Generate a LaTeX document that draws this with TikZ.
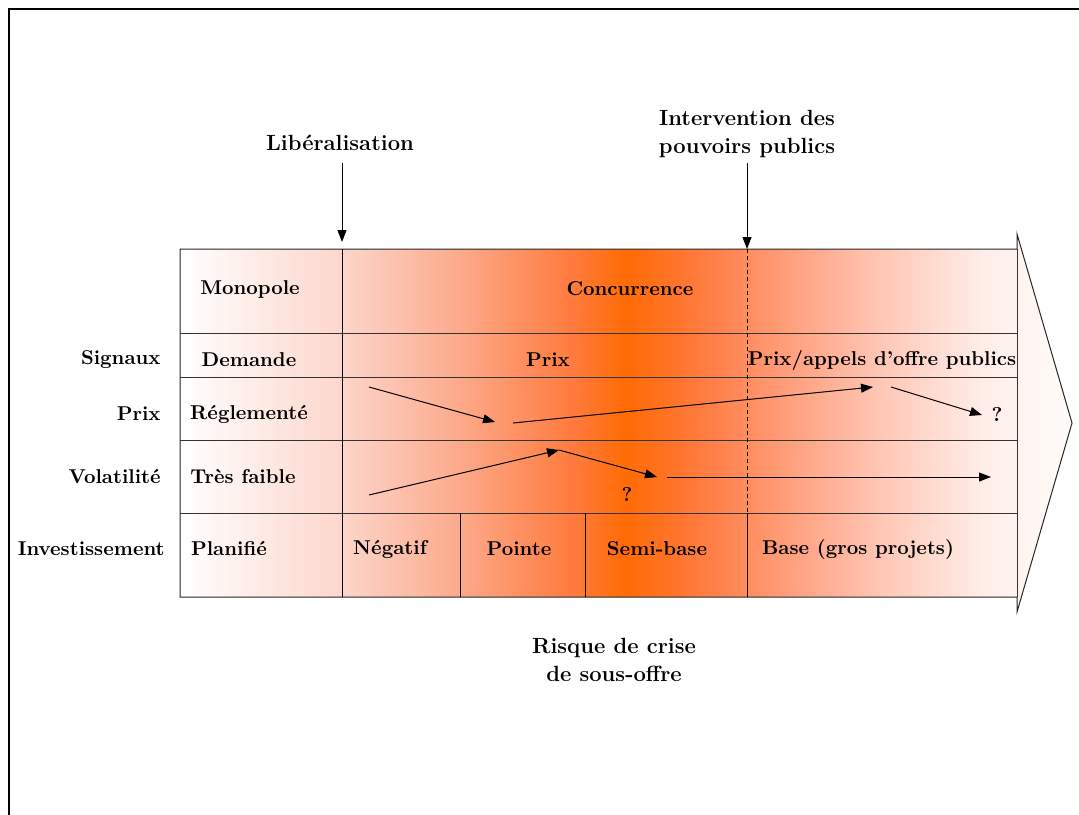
\documentclass[tikz,border=0pt]{standalone}
\usetikzlibrary{arrows.meta}

% White -> orange -> white band across the arrow body
% (the path's bounding box covers 25bp..75bp of the shading)
\pgfdeclarehorizontalshading{orangeband}{100bp}{
  rgb(0bp)=(1,1,1);
  rgb(25bp)=(1,1,1);
  rgb(34bp)=(0.99,0.84,0.80);
  rgb(40.5bp)=(0.99,0.67,0.55);
  rgb(47bp)=(1,0.48,0.24);
  rgb(50bp)=(1,0.42,0.02);
  rgb(53bp)=(1,0.46,0.18);
  rgb(56bp)=(1,0.53,0.34);
  rgb(60bp)=(1,0.65,0.53);
  rgb(65bp)=(1,0.80,0.74);
  rgb(70bp)=(1,0.93,0.91);
  rgb(75bp)=(1,0.99,0.98);
  rgb(100bp)=(1,0.99,0.98)}

\tikzset{
  grid/.style={line width=0.5pt, black!80},
  sep/.style={line width=0.5pt, black},
  lbl/.style={font=\fontsize{10}{12}\selectfont\bfseries, inner sep=0pt},
  head/.style={font=\fontsize{11}{14}\selectfont\bfseries, inner sep=0pt, align=center},
  trend/.style={line width=0.5pt, -{Triangle[length=6pt,width=4.5pt]}},
}

\begin{document}
\begin{tikzpicture}[x=0.5pt, y=-0.5pt]
\useasboundingbox (0,0) rectangle (1079,814);

% outer frame
\draw[line width=1.3pt] (9,830) -- (9,9) -- (1095,9);

% arrow body with shading
\shade[shading=orangeband]
  (180,249) -- (1017,249) -- (1017,234) -- (1072,423) -- (1017,612)
  -- (1017,597) -- (180,597) -- cycle;
\draw[line width=0.5pt, black!85]
  (180,249) -- (1017,249) -- (1017,234) -- (1072,423) -- (1017,612)
  -- (1017,597) -- (180,597) -- cycle;

% table rules
\draw[grid] (1017,249) -- (1017,597);
\foreach \yy in {333,377,440,513} \draw[grid] (180,\yy) -- (1017,\yy);
\draw[sep] (342,249) -- (342,597);
\draw[sep] (460,513) -- (460,597);
\draw[sep] (585,513) -- (585,597);
\draw[sep] (747,513) -- (747,597);
\draw[sep, dash pattern=on 2pt off 1.5pt] (747,249) -- (747,513);

% event headings and their arrows
\node[head] (lib) at (340,143) {Libéralisation};
\node[head] (inter) at (747,134) {Intervention des\\pouvoirs publics};
\coordinate (libtop) at (342,163);
\coordinate (libtip) at (342,242);
\coordinate (intertop) at (747,163);
\coordinate (intertip) at (747,249);
\draw[trend] (libtop) -- (libtip);
\draw[trend] (intertop) -- (intertip);

% row labels
\node[lbl, anchor=east] (rsig) at (161,360) {Signaux};
\node[lbl, anchor=east] (rprix) at (161,414) {Prix};
\node[lbl, anchor=east] (rvol) at (161,477) {Volatilité};
\node[lbl, anchor=east] (rinv) at (165,549) {Investissement};

% first column
\node[lbl] (mono) at (250,289) {Monopole};
\node[lbl] (dem) at (249,360) {Demande};
\node[lbl] (regl) at (249,414) {Réglementé};
\node[lbl] (faible) at (243,477) {Très faible};
\node[lbl] (plan) at (229,549) {Planifié};

% later phases
\node[lbl] (conc) at (630,289) {Concurrence};
\node[lbl] (prix) at (548,360) {Prix};
\node[lbl] (appels) at (882,360) {Prix/appels d’offre publics};
\node[lbl] (neg) at (390,549) {Négatif};
\node[lbl] (pointe) at (519,549) {Pointe};
\node[lbl] (semi) at (657,549) {Semi-base};
\node[lbl] (base) at (858,549) {Base (gros projets)};
\node[lbl] (qprix) at (997,414) {?};
\node[lbl] (qvol) at (627,494) {?};

% price trend
\coordinate (p1) at (369,387);
\coordinate (p2) at (495,422);
\coordinate (p3) at (513,423);
\coordinate (p4) at (873,387);
\coordinate (p5) at (891,387);
\coordinate (p6) at (982,415);
\draw[trend] (p1) -- (p2);
\draw[trend] (p3) -- (p4);
\draw[trend] (p5) -- (p6);

% volatility trend
\coordinate (v1) at (369,495);
\coordinate (v2) at (559,450);
\coordinate (v3) at (657,477);
\coordinate (v4) at (667,477);
\coordinate (v5) at (991,477);
\draw[trend] (v1) -- (v2);
\draw[trend] (v2) -- (v3);
\draw[trend] (v4) -- (v5);

% caption under the arrow
\node[head] (risk) at (614,660) {Risque de crise\\de sous-offre};
\end{tikzpicture}
\end{document}
